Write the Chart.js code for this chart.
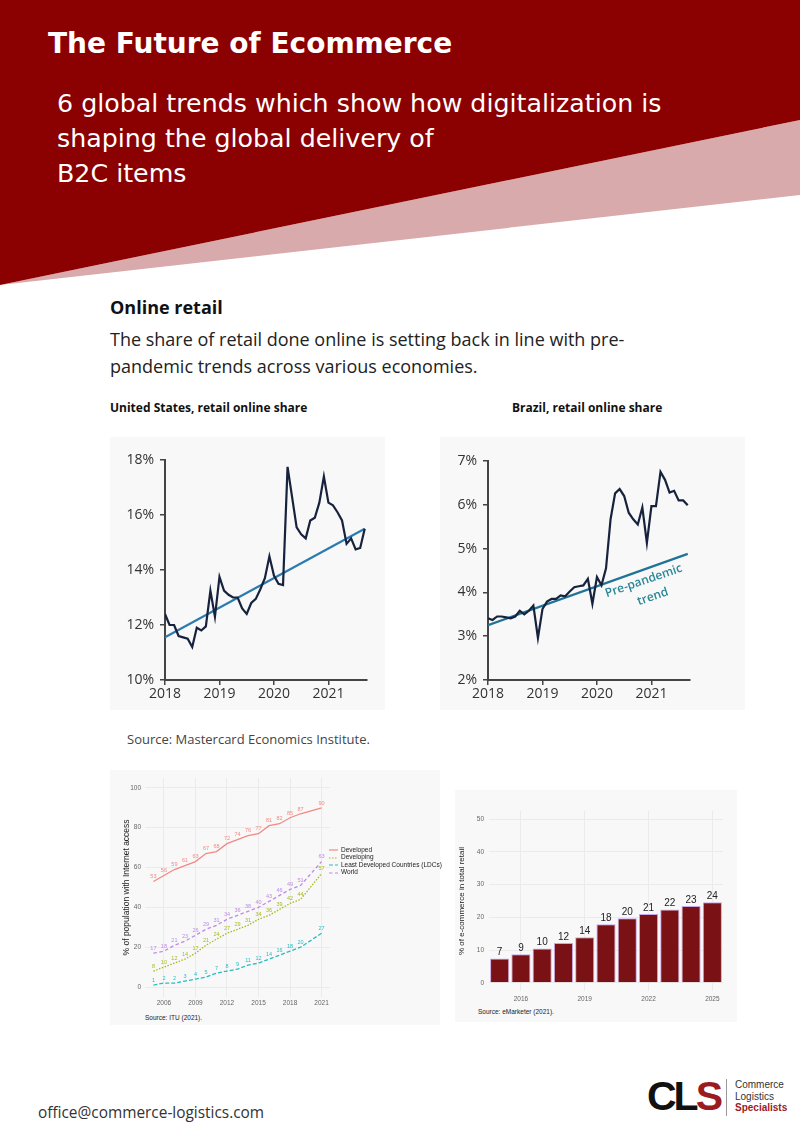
<!DOCTYPE html>
<html>
<head>
<meta charset="utf-8">
<script src="https://cdn.jsdelivr.net/npm/chart.js@4.4.1/dist/chart.umd.min.js"></script>
<style>
  body { margin: 0; background: #fff; }
  .page { position: relative; width: 800px; height: 1131px; overflow: hidden; background: #fff; font-family: "Open Sans", sans-serif; }
  .abs { position: absolute; }
  .box { position: absolute; }
  .title { left: 48px; top: 30px; color: #fff; font: bold 28px "DejaVu Sans"; line-height: 1; white-space: nowrap; }
  .subtitle { left: 57px; top: 86px; color: #fff; font: 25.3px "DejaVu Sans"; line-height: 35px; white-space: nowrap; }
  .h2 { left: 110px; top: 295px; font: bold 18px "Open Sans"; color: #111; }
  .lead { left: 110px; top: 326px; font: 18px "Open Sans"; color: #222; line-height: 27px; white-space: nowrap; }
  .ctitle { font: bold 12px "Open Sans"; color: #111; white-space: nowrap; }
  .src { font: 13px "Open Sans"; color: #444; white-space: nowrap; }
  .srcsmall { font: 6.5px "Liberation Sans"; color: #222; white-space: nowrap; }
  .panel { background: #f8f8f8; }
  .legend { font: 6.5px "Liberation Sans"; color: #222; line-height: 7.4px; white-space: nowrap; }
  .legend svg { vertical-align: middle; margin-right: 3px; }
</style>
</head>
<body>
<div class="page">
  <svg class="abs" style="left:0;top:0" width="800" height="300">
    <polygon points="0,285 800,120 800,195" fill="#d9aaab"/>
    <polygon points="0,0 800,0 800,120 0,285" fill="#8b0000"/>
  </svg>
  <div class="abs title">The Future of Ecommerce</div>
  <div class="abs subtitle">6 global trends which show how digitalization is<br>shaping the global delivery of<br>B2C items</div>

  <div class="abs h2">Online retail</div>
  <div class="abs lead">The share of retail done online is setting back in line with pre-<br>pandemic trends across various economies.</div>

  <div class="abs ctitle" style="left:110px;top:399px">United States, retail online share</div>
  <div class="abs ctitle" style="left:512px;top:399px">Brazil, retail online share</div>

  <div class="box panel" style="left:110px;top:437px;width:275px;height:273px"><canvas id="usChart"></canvas></div>
  <div class="box panel" style="left:440px;top:437px;width:305px;height:273px"><canvas id="brChart"></canvas></div>

  <div class="abs src" style="left:127px;top:730px">Source: Mastercard Economics Institute.</div>

  <div class="box panel" style="left:110px;top:770px;width:330px;height:255px"></div>
  <div class="box" style="left:110px;top:770px;width:225px;height:239px"><canvas id="ituChart"></canvas></div>
  <div class="abs legend" id="ituLegend" style="left:329px;top:846px"></div>
  <div class="abs srcsmall" style="left:145px;top:1014px">Source: ITU (2021).</div>

  <div class="box panel" style="left:455px;top:790px;width:282px;height:232px"></div>
  <div class="box" style="left:455px;top:795px;width:280px;height:210px"><canvas id="barChart"></canvas></div>
  <div class="abs srcsmall" style="left:478px;top:1008px">Source: eMarketer (2021).</div>

  <div class="abs" style="left:38px;top:1102px;font:15.4px 'Open Sans';color:#333">office@commerce-logistics.com</div>
  <div class="abs" style="left:647px;top:1076px;font:bold 41px 'Liberation Sans';letter-spacing:-3px;line-height:1;color:#111">CL<span style="color:#9b1b1f">S</span></div>
  <div class="abs" style="left:726px;top:1079px;width:1px;height:37px;background:#999"></div>
  <div class="abs" style="left:735px;top:1079px;font:10px 'Liberation Sans';line-height:11.5px;color:#333">Commerce<br>Logistics<br><b style="color:#9b1b1f">Specialists</b></div>
</div>

<script>
// Online retail share, monthly Jan 2018 - Sep 2021 (%)
const retailYears = [2018, 2019, 2020, 2021];
const usShare = [12.4, 12.0, 12.0, 11.6, 11.55, 11.5, 11.2, 11.9, 11.8, 11.95, 13.25, 12.3,
    13.75, 13.25, 13.1, 13.0, 13.0, 12.6, 12.4, 12.8, 12.95, 13.3, 13.7, 14.5,
    13.8, 13.5, 13.45, 17.75, 16.65, 15.55, 15.3, 15.15, 15.8, 15.9, 16.45, 17.4,
    16.45, 16.35, 16.1, 15.8, 14.95, 15.15, 14.75, 14.8, 15.5];
const usTrend = [11.55, 15.5];
const brShare = [3.41, 3.37, 3.45, 3.45, 3.43, 3.41, 3.45, 3.58, 3.5, 3.58, 3.7, 2.96,
    3.62, 3.79, 3.85, 3.85, 3.93, 3.91, 4.02, 4.12, 4.14, 4.16, 4.31, 3.74,
    4.35, 4.16, 4.55, 5.67, 6.26, 6.36, 6.2, 5.82, 5.67, 5.55, 5.94, 5.13,
    5.97, 5.97, 6.75, 6.57, 6.28, 6.32, 6.1, 6.1, 5.99];
const brTrend = [3.25, 4.88];
const brNote = [{ text: 'Pre-pandemic', x: 34.3, y: 4.26 }, { text: 'trend', x: 36.3, y: 3.9 }];

// ITU internet access (% of population), 2020 not reported
const ituYears = [2005, 2006, 2007, 2008, 2009, 2010, 2011, 2012, 2013, 2014, 2015, 2016, 2017, 2018, 2019, 2020, 2021];
const ituTicks = [2006, 2009, 2012, 2015, 2018, 2021];
const developed = [53, 56, 59, 61, 63, 67, 68, 72, 74, 76, 77, 81, 82, 85, 87, null, 90];
const developing = [8, 10, 12, 14, 17, 21, 24, 27, 29, 31, 34, 36, 39, 42, 44, null, 57];
const ldc = [1, 2, 2, 3, 4, 5, 7, 8, 9, 11, 12, 14, 16, 18, 20, null, 27];
const world = [17, 18, 21, 23, 26, 29, 31, 34, 36, 38, 40, 43, 46, 49, 51, null, 63];

// e-commerce share of total retail (%)
const barYears = [2015, 2016, 2017, 2018, 2019, 2020, 2021, 2022, 2023, 2024, 2025];
const barTicks = [2016, 2019, 2022, 2025];
const ecomShare = [7.4, 8.7, 10.5, 12.2, 13.9, 17.9, 19.7, 21.0, 22.4, 23.5, 24.6];
const ecomLabels = ['7', '9', '10', '12', '14', '18', '20', '21', '22', '23', '24'];

const axisFont = { family: 'Open Sans', size: 14 };

function retailChart(id, share, trend, yMin, yMax, step, yWidth, pad, lineColor, trendColor, extra) {
    const last = share.length - 1;
    return new Chart(document.getElementById(id), {
        type: 'line',
        data: {
            datasets: [{
                data: share.map((v, i) => ({ x: i, y: v })),
                borderColor: lineColor, borderWidth: 2.2, pointRadius: 0, tension: 0
            }, {
                data: [{ x: 0, y: trend[0] }, { x: last, y: trend[1] }],
                borderColor: trendColor, borderWidth: 2.2, pointRadius: 0
            }]
        },
        options: {
            responsive: true, maintainAspectRatio: false, animation: false,
            layout: { padding: pad },
            plugins: { legend: { display: false }, tooltip: { enabled: false } },
            scales: {
                x: {
                    type: 'linear', min: 0, max: last + 0.5,
                    afterBuildTicks: ax => { ax.ticks = retailYears.map((y, i) => ({ value: i * 12 })); },
                    afterFit: s => { s.height = 30; },
                    ticks: { callback: v => retailYears[v / 12], color: '#333', font: axisFont, padding: 1, maxRotation: 0 },
                    grid: { drawOnChartArea: false, tickLength: 5, color: '#444', lineWidth: 1.5 },
                    border: { color: '#444', width: 2 }
                },
                y: {
                    min: yMin, max: yMax,
                    afterFit: s => { s.width = yWidth; },
                    ticks: { stepSize: step, callback: v => v + '%', color: '#333', font: axisFont, padding: 6 },
                    grid: { drawOnChartArea: false, tickLength: 5, color: '#444', lineWidth: 1.5 },
                    border: { color: '#444', width: 2 }
                }
            }
        },
        plugins: extra ? [extra] : []
    });
}

retailChart('usChart', usShare, usTrend, 10, 18, 2, 55, { top: 23, right: 18 }, '#17223d', '#2b7bb0');

const trendNote = {
    id: 'trendNote',
    afterDatasetsDraw(chart) {
        const { ctx, scales } = chart;
        ctx.save();
        ctx.fillStyle = '#2a8797';
        ctx.font = '600 12px "Open Sans"';
        ctx.textAlign = 'center';
        ctx.textBaseline = 'middle';
        brNote.forEach(n => {
            ctx.save();
            ctx.translate(scales.x.getPixelForValue(n.x), scales.y.getPixelForValue(n.y));
            ctx.rotate(-19 * Math.PI / 180);
            ctx.fillText(n.text, 0, 0);
            ctx.restore();
        });
        ctx.restore();
    }
};
retailChart('brChart', brShare, brTrend, 2, 7, 1, 48, { top: 24, right: 55 }, '#17223d', '#1f7396', trendNote);

// value labels on every point
const pointLabels = {
    id: 'pointLabels',
    afterDatasetsDraw(chart) {
        const { ctx } = chart;
        ctx.save();
        ctx.font = '5.5px "Liberation Sans"';
        ctx.textAlign = 'center';
        ctx.textBaseline = 'bottom';
        chart.data.datasets.forEach((ds, di) => {
            ctx.fillStyle = ds.borderColor;
            chart.getDatasetMeta(di).data.forEach((pt, i) => {
                const v = ds.data[i].y;
                if (v === null) return;
                ctx.fillText(v, pt.x, pt.y - 2);
            });
        });
        ctx.restore();
    }
};

const ituSeries = [
    { label: 'Developed', values: developed, color: '#f08a84', dash: [] },
    { label: 'Developing', values: developing, color: '#a8b820', dash: [1.5, 1.5] },
    { label: 'Least Developed Countries (LDCs)', values: ldc, color: '#27bdc2', dash: [4, 2] },
    { label: 'World', values: world, color: '#c08ae8', dash: [3.5, 2.5] }
];

new Chart(document.getElementById('ituChart'), {
    type: 'line',
    data: {
        datasets: ituSeries.map(s => ({
            label: s.label,
            data: ituYears.map((y, i) => ({ x: y, y: s.values[i] })),
            borderColor: s.color, backgroundColor: s.color, borderDash: s.dash,
            borderWidth: 1.3, pointRadius: 0, spanGaps: true, tension: 0
        }))
    },
    options: {
        responsive: true, maintainAspectRatio: false, animation: false,
        layout: { padding: { top: 7, right: 5 } },
        plugins: { tooltip: { enabled: false }, legend: { display: false } },
        scales: {
            x: {
                type: 'linear', min: 2004.2, max: 2021.8,
                afterBuildTicks: ax => { ax.ticks = ituTicks.map(v => ({ value: v })); },
                afterFit: s => { s.height = 12; },
                ticks: { callback: v => v, color: '#666', font: { family: 'Liberation Sans', size: 6.5 }, padding: 2, maxRotation: 0 },
                grid: { color: '#ebebeb', drawTicks: false },
                border: { display: false }
            },
            y: {
                min: -5, max: 105,
                afterBuildTicks: ax => { ax.ticks = [0, 20, 40, 60, 80, 100].map(v => ({ value: v })); },
                afterFit: s => { s.width = 35; },
                title: { display: true, text: '% of population with Internet access', color: '#222', font: { family: 'Liberation Sans', size: 8.5 }, padding: { top: 12, bottom: 2 } },
                ticks: { color: '#666', font: { family: 'Liberation Sans', size: 6.5 }, padding: 4 },
                grid: { color: '#ebebeb', drawTicks: false },
                border: { display: false }
            }
        }
    },
    plugins: [pointLabels]
});

// legend for the ITU chart, built from the series list
document.getElementById('ituLegend').innerHTML = ituSeries.map(s =>
    `<div><svg width="9" height="4"><line x1="0" y1="2" x2="9" y2="2" stroke="${s.color}" stroke-width="1.2" stroke-dasharray="${s.dash.join(',') || 'none'}"/></svg>${s.label}</div>`
).join('');

const barLabels = {
    id: 'barLabels',
    afterDatasetsDraw(chart) {
        const { ctx } = chart;
        ctx.save();
        ctx.font = '10px "Liberation Sans"';
        ctx.fillStyle = '#222';
        ctx.textAlign = 'center';
        ctx.textBaseline = 'bottom';
        chart.getDatasetMeta(0).data.forEach((bar, i) => {
            ctx.fillText(ecomLabels[i], bar.x, bar.y - 1);
        });
        ctx.restore();
    }
};

new Chart(document.getElementById('barChart'), {
    type: 'bar',
    data: {
        labels: barYears,
        datasets: [{
            data: ecomShare,
            backgroundColor: '#7a1114', borderColor: '#c9a6e6', borderWidth: 1,
            barPercentage: 0.9, categoryPercentage: 1
        }]
    },
    options: {
        responsive: true, maintainAspectRatio: false, animation: false,
        layout: { padding: { top: 16, right: 12 } },
        plugins: { legend: { display: false }, tooltip: { enabled: false } },
        scales: {
            x: {
                afterFit: s => { s.height = 14; },
                ticks: {
                    autoSkip: false, maxRotation: 0, padding: 4,
                    callback: (v, i) => barTicks.includes(barYears[i]) ? barYears[i] : '',
                    color: '#666', font: { family: 'Liberation Sans', size: 6.5 }
                },
                grid: { offset: false, drawTicks: false, color: c => barTicks.includes(barYears[c.index]) ? '#ebebeb' : 'rgba(0,0,0,0)' },
                border: { display: false }
            },
            y: {
                min: -2.5, max: 52.5,
                afterBuildTicks: ax => { ax.ticks = [0, 10, 20, 30, 40, 50].map(v => ({ value: v })); },
                afterFit: s => { s.width = 34; },
                title: { display: true, text: '% of e-commerce in total retail', color: '#222', font: { family: 'Liberation Sans', size: 8 }, padding: 2 },
                ticks: { color: '#666', font: { family: 'Liberation Sans', size: 6.5 }, padding: 5 },
                grid: { color: '#ebebeb', drawTicks: false },
                border: { display: false }
            }
        }
    },
    plugins: [barLabels]
});
</script>
</body>
</html>
